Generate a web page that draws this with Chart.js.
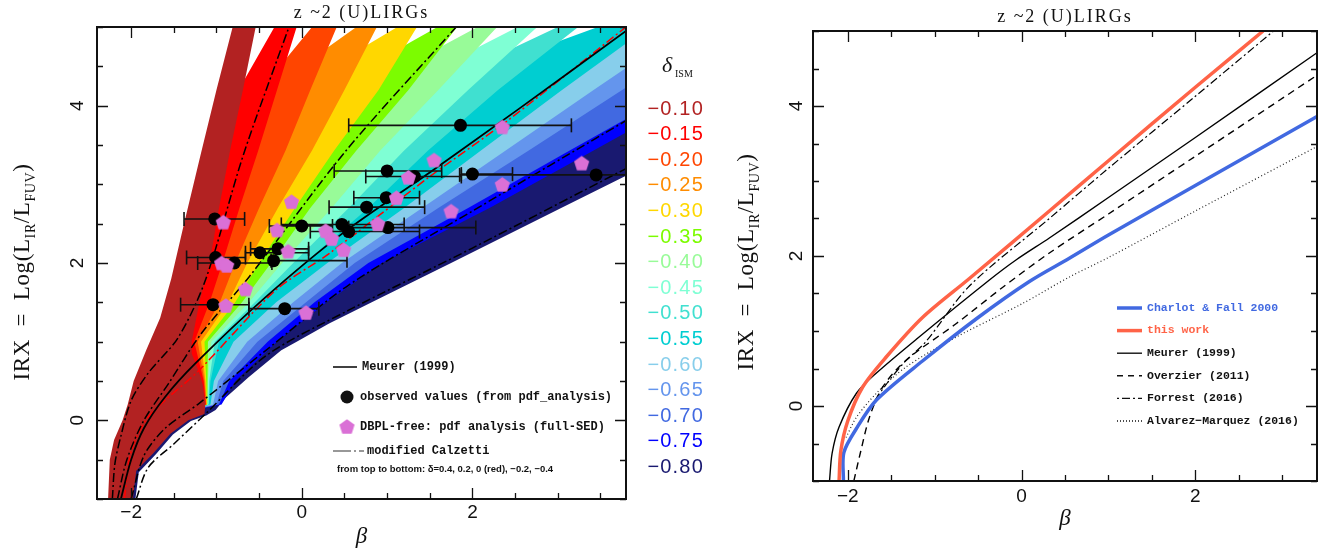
<!DOCTYPE html>
<html>
<head>
<meta charset="utf-8">
<title>IRX – beta, z ~2 (U)LIRGs</title>
<script src="https://cdn.jsdelivr.net/npm/chart.js@4.4.1/dist/chart.umd.min.js"></script>
<style>
  html, body { margin: 0; padding: 0; background: #fff; }
  #wrap { position: relative; width: 1325px; height: 553px; overflow: hidden; }
  canvas { position: absolute; top: 0; }
  #irxLeft { left: 0; }
  #irxRight { left: 720px; }
</style>
</head>
<body>
<div id="wrap">
  <canvas id="irxLeft" width="720" height="553"></canvas>
  <canvas id="irxRight" width="605" height="553"></canvas>
</div>
<script>
// ---------------- left panel: model grid + observations ----------------

const deltaLabels = ['−0.10', '−0.15', '−0.20', '−0.25', '−0.30', '−0.35', '−0.40', '−0.45',
                     '−0.50', '−0.55', '−0.60', '−0.65', '−0.70', '−0.75', '−0.80'];
const deltaColors = ['#b22222', '#ff0000', '#ff4500', '#ff8c00', '#ffd700', '#7cfc00', '#98fb98', '#7fffd4',
                     '#40e0d0', '#00ced1', '#87ceeb', '#6495ed', '#4169e1', '#0000ff', '#191970'];

// steep (upper-left) edge of the delta = -0.10 band, [beta, IRX] top to bottom
const outerEdge = [[-0.81, 5.0], [-1.0, 4.2], [-1.18, 3.4], [-1.38, 2.5], [-1.53, 1.8], [-1.66, 1.3],
                   [-1.82, 0.9], [-1.97, 0.5], [-2.04, 0.2], [-2.1, 0.0], [-2.2, -0.25], [-2.25, -0.5], [-2.27, -1.0]];

// lower-right edge of every band, [beta, IRX] top to bottom
const bandEdges = [
  [[-0.54, 5], [-0.69, 4.2], [-0.84, 3.43], [-0.97, 2.7], [-1.08, 2.0], [-1.2, 1.5], [-1.29, 1.0], [-1.29, 0.85],
   [-1.2, 0.6], [-1.16, 0.45], [-1.13, 0.2], [-1.14, 0.08], [-1.33, 0.0], [-1.54, -0.17], [-1.74, -0.42], [-1.94, -0.64], [-1.98, -1.0]],
  [[-0.06, 5], [-0.29, 4.2], [-0.51, 3.43], [-0.73, 2.7], [-0.93, 2.0], [-1.08, 1.5], [-1.26, 1.0], [-1.15, 0.5], [-1.125, 0.2]],
  [[0.41, 5], [0.1, 4.2], [-0.19, 3.43], [-0.5, 2.7], [-0.78, 2.0], [-0.96, 1.5], [-1.22, 1.0], [-1.14, 0.5], [-1.12, 0.2]],
  [[0.88, 5], [0.5, 4.2], [0.12, 3.43], [-0.28, 2.7], [-0.64, 2.0], [-0.86, 1.5], [-1.18, 1.0], [-1.13, 0.5], [-1.115, 0.2]],
  [[1.35, 5], [0.9, 4.2], [0.38, 3.43], [-0.08, 2.7], [-0.5, 2.0], [-0.78, 1.5], [-1.14, 1.0], [-1.12, 0.5], [-1.11, 0.2]],
  [[1.82, 5], [1.25, 4.2], [0.64, 3.43], [0.1, 2.7], [-0.36, 2.0], [-0.7, 1.5], [-1.1, 1.0], [-1.11, 0.5], [-1.105, 0.2]],
  [[2.29, 5], [1.6, 4.2], [0.92, 3.43], [0.35, 2.7], [-0.23, 2.0], [-0.62, 1.5], [-1.06, 1.0], [-1.1, 0.5], [-1.1, 0.2]],
  [[2.76, 5], [1.95, 4.2], [1.2, 3.43], [0.55, 2.7], [-0.1, 2.0], [-0.55, 1.5], [-1.02, 1.0], [-1.085, 0.5], [-1.095, 0.2]],
  [[3.24, 5], [2.3, 4.2], [1.48, 3.43], [0.78, 2.7], [0.03, 2.0], [-0.47, 1.5], [-0.97, 1.0], [-1.07, 0.5], [-1.09, 0.2]],
  [[4.0, 5.0], [3.8, 4.79], [3.05, 4.2], [2.1, 3.43], [1.2, 2.7], [0.3, 2.0], [-0.3, 1.5], [-0.8, 1.0], [-1.03, 0.5], [-1.07, 0.2]],
  [[4.0, 4.63], [3.8, 4.48], [3.42, 4.2], [2.39, 3.43], [1.41, 2.7], [0.47, 2.0], [-0.1, 1.5], [-0.64, 1.0], [-0.98, 0.5], [-1.04, 0.2]],
  [[4.0, 4.37], [3.8, 4.23], [2.66, 3.43], [1.6, 2.7], [0.62, 2.0], [0.05, 1.5], [-0.52, 1.0], [-0.92, 0.5], [-1.0, 0.2]],
  [[4.0, 3.95], [3.8, 3.83], [3.14, 3.43], [1.95, 2.7], [0.78, 2.0], [0.15, 1.5], [-0.4, 1.0], [-0.85, 0.5], [-0.97, 0.2]],
  [[4.0, 3.78], [3.8, 3.66], [3.42, 3.43], [2.2, 2.7], [0.94, 2.0], [0.29, 1.5], [-0.29, 1.0], [-0.78, 0.5], [-0.94, 0.2]],
  [[4.0, 3.22], [3.8, 3.11], [3.04, 2.7], [1.75, 2.0], [0.82, 1.5], [0.32, 1.23], [-0.06, 1.0], [-0.24, 0.89],
   [-0.62, 0.55], [-0.89, 0.29], [-1.01, 0.13], [-1.12, 0.06], [-1.3, -0.01], [-1.51, -0.18], [-1.71, -0.43], [-1.91, -0.66], [-1.95, -1.0]]
];
// where each stripe starts along the top axis, and the IRX at which the white gap above it closes
const bandTopLeft = [null, -0.32, 0.12, 0.64, 1.12, 1.59, 2.06, 2.53, 3.0, 3.47];
const gapClose = [null, 4.23, 4.53, 4.7, 4.74, 4.74, 4.72, 4.7, 4.7, 4.8];

// reference relations
const meurerL = [[-2.12, -1.0], [-2.0, -0.5], [-1.85, -0.1], [-1.6, 0.3], [-1.25, 0.72], [-0.43, 1.56], [0.47, 2.37], [1.5, 3.15], [2.52, 3.94], [3.8, 4.95]];
const calz04 = [[-2.22, -1.0], [-2.19, -0.55], [-2.12, -0.2], [-2.0, 0.25], [-1.8, 0.6], [-1.45, 1.05], [-1.13, 1.78], [-0.68, 3.39], [-0.15, 5.0]];
const calz02 = [[-2.16, -1.0], [-2.05, -0.5], [-1.85, 0.0], [-1.56, 0.47], [-1.18, 1.1], [-0.62, 1.82], [0.52, 3.43], [1.81, 5.0]];
const calz00 = [[-2.08, -1.0], [-2.0, -0.4], [-1.8, 0.04], [-1.21, 0.63], [-0.31, 1.65], [0.32, 2.12], [1.49, 3.09], [2.46, 3.85], [3.8, 5.0]];
const calzM02 = [[-2.0, -1.0], [-1.85, -0.45], [-1.6, -0.1], [-1.21, 0.21], [-0.42, 0.89], [0.55, 1.72], [2.0, 2.66], [3.8, 3.81]];
const calzM04 = [[-1.94, -1.0], [-1.8, -0.6], [-1.5, -0.3], [-1.13, 0.08], [-0.42, 0.82], [0.55, 1.4], [2.0, 2.19], [3.8, 3.2]];

// observed values with beta uncertainties
const obsBeta = [-1.02, 0.0, -1.01, -0.79, -0.49, -0.28, -0.33, -1.04, -0.20, 0.47, 0.55, 0.76, 0.99, 1.00, 1.32, 2.00, 3.45, 1.86, 1.01];
const obsIrx  = [2.56, 2.47, 2.07, 2.00, 2.13, 2.18, 2.03, 1.47, 1.42, 2.49, 2.40, 2.71, 2.83, 3.17, 3.10, 3.13, 3.12, 3.75, 2.45];
const obsLo   = [-1.38, -0.38, -1.35, -1.22, -0.66, -0.60, -0.36, -1.42, -0.62, -0.24, 0.10, 0.32, 0.61, 0.38, 0.75, 1.87, 1.85, 0.55, 0.55];
const obsHi   = [-0.67, 0.36, -0.66, -0.35, 0.08, 0.08, 0.53, -0.62, 0.20, 1.20, 1.38, 1.44, 1.38, 1.64, 1.87, 2.47, 4.20, 3.16, 2.04];

// full-SED fits
const sedBeta = [-0.12, -0.92, -0.29, 0.28, 0.35, 0.49, -0.16, -0.94, -0.88, -0.66, -0.89, 0.05, 2.35, 1.55, 1.25, 1.11, 2.35, 3.28, 1.75, 0.89];
const sedIrx  = [2.78, 2.52, 2.42, 2.41, 2.31, 2.17, 2.15, 2.00, 1.97, 1.67, 1.46, 1.37, 3.73, 3.31, 3.09, 2.83, 3.00, 3.27, 2.66, 2.50];

// ---------------- right panel: literature relations ----------------
const cf00     = [[-2.05, -1.0], [-2.045, -0.62], [-1.9, -0.3], [-1.67, 0.08], [-1.14, 0.6], [-0.5, 1.18], [0.09, 1.66], [0.55, 1.97], [1.0, 2.28], [2.0, 2.94], [3.4, 3.86]];
const thisWork = [[-2.1, -1.0], [-2.08, -0.6], [-2.0, -0.2], [-1.83, 0.25], [-1.56, 0.65], [-1.14, 1.18], [-0.6, 1.7], [0.32, 2.6], [1.0, 3.27], [2.0, 4.25], [2.78, 5.0]];
const meurerR  = [[-2.21, -1.0], [-2.18, -0.63], [-2.1, -0.28], [-1.9, 0.17], [-1.67, 0.44], [-1.2, 0.9], [-0.37, 1.68], [-0.06, 1.95], [0.32, 2.24], [1.0, 2.78], [2.0, 3.58], [3.4, 4.71]];
const overzier = [[-1.93, -1.0], [-1.85, -0.6], [-1.75, -0.15], [-1.6, 0.25], [-1.33, 0.61], [-0.75, 1.1], [-0.22, 1.58], [0.32, 2.04], [1.0, 2.56], [2.0, 3.33], [3.4, 4.41]];
const forrest  = [[-1.72, 0.02], [-1.55, 0.3], [-1.35, 0.58], [-1.1, 0.86], [-0.6, 1.6], [0.32, 2.5], [1.0, 3.17], [2.0, 4.13], [2.9, 5.0]];
const alvarez  = [[-2.02, -0.42], [-1.9, -0.15], [-1.67, 0.17], [-1.33, 0.52], [-0.75, 0.92], [0.0, 1.36], [0.55, 1.72], [1.0, 1.98], [2.0, 2.6], [3.4, 3.46]];

const xTickLabels = [-2, 0, 2];
const yTickLabels = [0, 2, 4];

// -------------------------------------------------------------------

const xy = pts => pts.map(p => ({x: p[0], y: p[1]}));
const fmt = v => (v < 0 ? '−' : '') + Math.abs(v);

// closed outline of one colour band; later bands are tucked beneath earlier ones
function bandPolygon(i) {
  if (i === 0) return outerEdge.slice().reverse().concat(bandEdges[0]);
  const pts = [i < bandTopLeft.length ? [bandTopLeft[i], 5] : [4.3, 5.3]];
  bandEdges[i].forEach(p => pts.push(p));
  if (i === bandEdges.length - 1) pts.push([-2.12, -1.0], [-1.9, -0.3], [-1.5, 0.1]);
  else pts.push([-1.4, 0.1]);
  const prev = bandEdges[i - 1].filter(p => p[1] >= 0.15);
  const top = i < gapClose.length ? gapClose[i] : Infinity;
  for (let k = prev.length - 1; k >= 0; k--) {
    const [b, v] = prev[k];
    if (v <= top) { pts.push([b - 0.04, v]); continue; }
    const [b0, v0] = prev[k + 1];
    const f = (top - v0) / (v - v0);
    pts.push([b0 + f * (b - b0) - 0.04, top]);
    break;
  }
  return pts;
}

// pentagon marker for the full-SED points
const pentagon = (() => {
  const c = document.createElement('canvas');
  c.width = 17; c.height = 17;
  const g = c.getContext('2d');
  g.fillStyle = '#da70d6';
  g.beginPath();
  for (let k = 0; k < 5; k++) {
    const t = -Math.PI / 2 + k * 2 * Math.PI / 5;
    const px = 8.5 + 8 * Math.cos(t), py = 9.3 + 8 * Math.sin(t);
    if (k) g.lineTo(px, py); else g.moveTo(px, py);
  }
  g.closePath();
  g.fill();
  return c;
})();

function curve(pts, color, width, dash, order) {
  return {
    type: 'line', data: xy(pts), borderColor: color, borderWidth: width, borderDash: dash,
    pointRadius: 0, tension: 0.3, fill: false, order: order
  };
}

function subLabel(ctx, cx, cy, size, parts, family) {
  // horizontal run of text with subscripts, centred on (cx, cy)
  const small = Math.round(size * 0.62);
  let total = 0;
  parts.forEach(([t, sub]) => {
    ctx.font = (sub ? small : size) + 'px ' + family;
    total += ctx.measureText(t).width;
  });
  let x = cx - total / 2;
  ctx.textAlign = 'left';
  ctx.textBaseline = 'alphabetic';
  parts.forEach(([t, sub]) => {
    ctx.font = (sub ? small : size) + 'px ' + family;
    ctx.fillText(t, x, cy + (sub ? size * 0.25 : 0));
    x += ctx.measureText(t).width;
  });
}

function drawFrame(chart, o) {
  const {ctx, chartArea: a} = chart;
  const xs = chart.scales.x, ys = chart.scales.y;
  ctx.save();
  ctx.strokeStyle = '#111';
  ctx.lineWidth = 1.3;
  ctx.beginPath();
  for (let k = Math.ceil(xs.min * 2); k <= Math.floor(xs.max * 2); k++) {
    const px = Math.round(xs.getPixelForValue(k / 2)) + 0.5;
    const len = k % 4 === 0 ? 11 : 6;
    ctx.moveTo(px, a.bottom); ctx.lineTo(px, a.bottom - len);
    ctx.moveTo(px, a.top); ctx.lineTo(px, a.top + len);
  }
  for (let k = Math.ceil(ys.min * 2); k <= Math.floor(ys.max * 2); k++) {
    const py = Math.round(ys.getPixelForValue(k / 2)) + 0.5;
    const len = k % 4 === 0 ? 11 : 6;
    ctx.moveTo(a.left, py); ctx.lineTo(a.left + len, py);
    ctx.moveTo(a.right, py); ctx.lineTo(a.right - len, py);
  }
  ctx.stroke();
  ctx.lineWidth = 2;
  ctx.strokeRect(a.left, a.top, a.right - a.left, a.bottom - a.top);

  // tick numbers
  ctx.fillStyle = '#111';
  ctx.font = '19px "Liberation Sans"';
  ctx.textAlign = 'center';
  ctx.textBaseline = 'middle';
  xTickLabels.forEach(v => ctx.fillText(fmt(v), xs.getPixelForValue(v), a.bottom + o.xNumOff));
  yTickLabels.forEach(v => {
    ctx.save();
    ctx.translate(a.left - o.yNumOff, ys.getPixelForValue(v));
    ctx.rotate(-Math.PI / 2);
    ctx.fillText(fmt(v), 0, 0);
    ctx.restore();
  });

  // title and axis names
  ctx.font = '18px "Liberation Serif"';
  ctx.letterSpacing = '2px';
  ctx.fillText('z ~2 (U)LIRGs', (a.left + a.right) / 2, a.top - 14);
  ctx.letterSpacing = '0px';
  ctx.font = 'italic 23px "Liberation Serif"';
  ctx.fillText('β', (a.left + a.right) / 2, a.bottom + 38);
  ctx.save();
  ctx.translate(o.yTitleX, o.yTitleY);
  ctx.rotate(-Math.PI / 2);
  ctx.letterSpacing = '0.6px';
  subLabel(ctx, 0, 8, 23, [['IRX  =  Log(L', 0], ['IR', 1], ['/L', 0], ['FUV', 1], [')', 0]], '"Liberation Serif"');
  ctx.letterSpacing = '0px';
  ctx.restore();
  ctx.restore();
}

const leftDecor = {
  id: 'leftDecor',
  afterDraw(chart) {
    const ctx = chart.ctx;
    drawFrame(chart, {xNumOff: 14, yNumOff: 19, yTitleX: 21, yTitleY: 272});
    ctx.save();
    // legend
    ctx.fillStyle = '#111';
    ctx.strokeStyle = '#111';
    ctx.font = 'bold 12px "Liberation Mono"';
    ctx.textAlign = 'left';
    ctx.textBaseline = 'middle';
    ctx.lineWidth = 1.6;
    ctx.beginPath(); ctx.moveTo(333, 367); ctx.lineTo(357, 367); ctx.stroke();
    ctx.fillText('Meurer (1999)', 362, 367);
    ctx.beginPath(); ctx.arc(347, 397, 6.5, 0, Math.PI * 2); ctx.fill();
    ctx.fillText('observed values (from pdf_analysis)', 360, 397);
    ctx.drawImage(pentagon, 338.5, 418);
    ctx.fillText('DBPL-free: pdf analysis (full-SED)', 360, 427);
    ctx.strokeStyle = '#777';
    ctx.beginPath();
    ctx.moveTo(333, 451); ctx.lineTo(351, 451);
    ctx.moveTo(354, 451); ctx.lineTo(356, 451);
    ctx.moveTo(359, 451); ctx.lineTo(364, 451);
    ctx.stroke();
    ctx.fillText('modified Calzetti', 367, 451);
    ctx.font = 'bold 9.5px "Liberation Sans"';
    ctx.fillText('from top to bottom: δ=0.4, 0.2, 0 (red), −0.2, −0.4', 337, 469);

    // delta_ISM key
    ctx.font = '20px "Liberation Sans"';
    ctx.letterSpacing = '1.2px';
    ctx.textAlign = 'right';
    deltaLabels.forEach((t, i) => {
      ctx.fillStyle = deltaColors[i];
      ctx.fillText(t, 704, 109 + i * 25.6);
    });
    ctx.letterSpacing = '0px';
    ctx.fillStyle = '#111';
    ctx.textAlign = 'left';
    ctx.font = 'italic 22px "Liberation Serif"';
    ctx.fillText('δ', 662, 66);
    ctx.font = '10px "Liberation Serif"';
    ctx.fillText('ISM', 675, 74);
    ctx.restore();
  }
};

const rightLegend = [
  ['Charlot & Fall 2000', '#4169e1', 3.5, []],
  ['this work', '#ff6347', 3.5, []],
  ['Meurer (1999)', '#111', 1.4, []],
  ['Overzier (2011)', '#111', 1.4, [6, 5]],
  ['Forrest (2016)', '#111', 1.4, [2, 3, 8, 3]],
  ['Alvarez−Marquez (2016)', '#111', 1.4, [1, 2]]
];

const rightDecor = {
  id: 'rightDecor',
  afterDraw(chart) {
    const ctx = chart.ctx;
    drawFrame(chart, {xNumOff: 16, yNumOff: 16, yTitleX: 25, yTitleY: 262});
    ctx.save();
    ctx.font = 'bold 11.5px "Liberation Mono"';
    ctx.textAlign = 'left';
    ctx.textBaseline = 'middle';
    rightLegend.forEach(([t, c, w, d], i) => {
      const y = 308 + i * 22.6;
      ctx.strokeStyle = c;
      ctx.lineWidth = w;
      ctx.setLineDash(d);
      ctx.beginPath(); ctx.moveTo(397, y); ctx.lineTo(422, y); ctx.stroke();
      ctx.setLineDash([]);
      ctx.fillStyle = i < 2 ? c : '#111';
      ctx.fillText(t, 427, y);
    });
    ctx.restore();
  }
};

// ---- left chart datasets ----
const leftSets = [];
leftSets.push({
  type: 'scatter', data: sedBeta.map((b, i) => ({x: b, y: sedIrx[i]})),
  pointStyle: pentagon, pointRadius: 8, order: 0
});
leftSets.push({
  type: 'scatter', data: obsBeta.map((b, i) => ({x: b, y: obsIrx[i]})),
  pointRadius: 6.5, backgroundColor: '#000', borderWidth: 0, order: 1
});
const bars = [];
obsBeta.forEach((b, i) => {
  bars.push({x: obsLo[i], y: obsIrx[i]}, {x: obsHi[i], y: obsIrx[i]}, {x: obsHi[i], y: null});
});
leftSets.push({
  type: 'line', data: bars, borderColor: '#111', borderWidth: 1.6, spanGaps: false,
  pointStyle: 'line', pointRotation: 90, pointRadius: 7, pointBorderWidth: 1.6, pointBorderColor: '#111', order: 2
});
leftSets.push(curve(meurerL, '#000', 1.8, [], 3));
leftSets.push(curve(calz04, '#000', 1.5, [9, 3, 2, 3], 4));
leftSets.push(curve(calz02, '#000', 1.5, [9, 3, 2, 3], 4));
leftSets.push(curve(calz00, '#ff0000', 1.5, [9, 3, 2, 3], 4));
leftSets.push(curve(calzM02, '#000', 1.5, [9, 3, 2, 3], 4));
leftSets.push(curve(calzM04, '#000', 1.5, [9, 3, 2, 3], 4));
bandEdges.forEach((e, i) => {
  leftSets.push({
    type: 'line', data: xy(bandPolygon(i)), fill: 'shape', backgroundColor: deltaColors[i],
    borderColor: 'rgba(0,0,0,0)', borderWidth: 0, pointRadius: 0, tension: 0, order: 10 + i
  });
});

const common = {
  responsive: false,
  animation: false,
  events: [],
  plugins: {legend: {display: false}, tooltip: {enabled: false}}
};

new Chart(document.getElementById('irxLeft'), {
  type: 'scatter',
  data: {datasets: leftSets},
  options: Object.assign({}, common, {
    layout: {padding: {left: 97, right: 94, top: 27, bottom: 54}},
    scales: {
      x: {type: 'linear', min: -2.4, max: 3.8, display: false},
      y: {type: 'linear', min: -1, max: 5, display: false}
    }
  }),
  plugins: [leftDecor]
});

// ---- right chart ----
new Chart(document.getElementById('irxRight'), {
  type: 'scatter',
  data: {
    datasets: [
      curve(cf00, '#4169e1', 3.5, [], 1),
      curve(thisWork, '#ff6347', 3.5, [], 0),
      curve(meurerR, '#000', 1.4, [], 2),
      curve(overzier, '#000', 1.4, [7, 5], 2),
      curve(forrest, '#000', 1.2, [2, 3, 8, 3], 2),
      curve(alvarez, '#222', 1.2, [1, 2.5], 2)
    ]
  },
  options: Object.assign({}, common, {
    layout: {padding: {left: 93, right: 8, top: 31, bottom: 72}},
    scales: {
      x: {type: 'linear', min: -2.4, max: 3.4, display: false},
      y: {type: 'linear', min: -1, max: 5, display: false}
    }
  }),
  plugins: [rightDecor]
});
</script>
</body>
</html>
